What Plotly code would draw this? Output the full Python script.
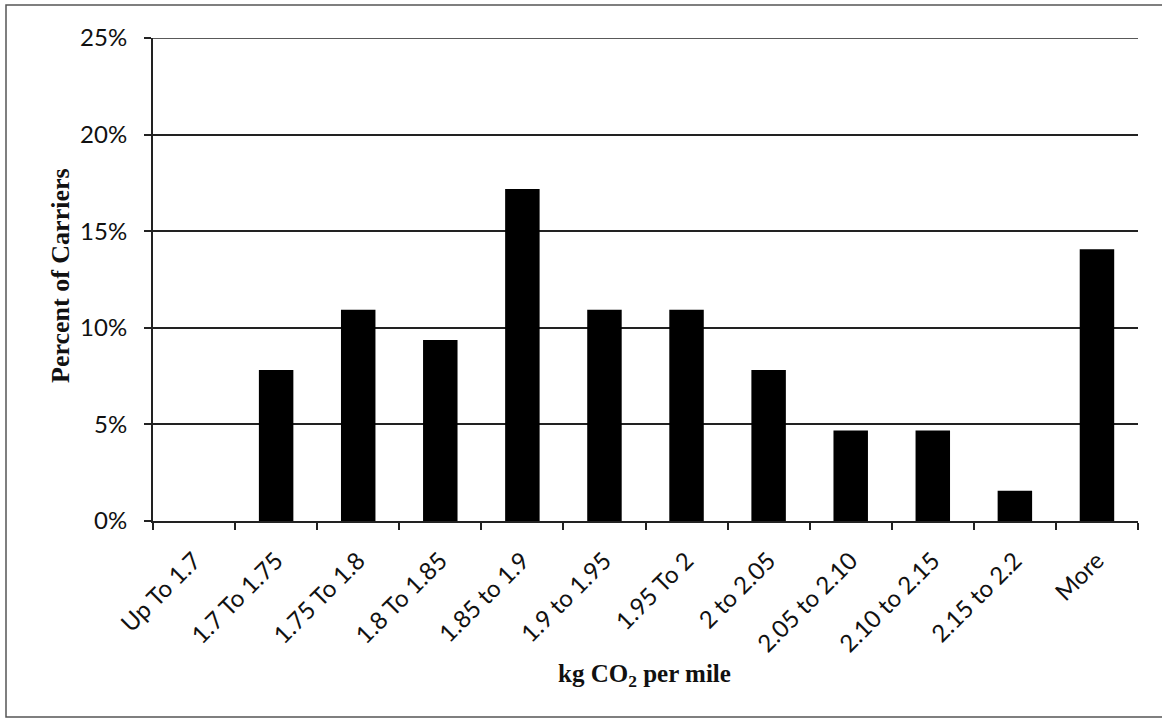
import plotly.graph_objects as go

# Distribution of carriers by emission intensity
categories = [
    "Up To 1.7", "1.7 To 1.75", "1.75 To 1.8", "1.8 To 1.85", "1.85 to 1.9",
    "1.9 to 1.95", "1.95 To 2", "2 to 2.05", "2.05 to 2.10", "2.10 to 2.15",
    "2.15 to 2.2", "More",
]
percent_of_carriers = [
    0.0, 7.8125, 10.9375, 9.375, 17.1875,
    10.9375, 10.9375, 7.8125, 4.6875, 4.6875,
    1.5625, 14.0625,
]
y_ticks = [0, 5, 10, 15, 20, 25]
y_tick_labels = ["0%", "5%", "10%", "15%", "20%", "25%"]
y_max = 25

W, H = 1162, 719
M_L, M_R, M_T, M_B = 153, 24, 38, 198
plot_w = W - M_L - M_R
plot_h = H - M_T - M_B


def px_to_paper_x(px):
    return (px - M_L) / plot_w


def px_to_paper_y(py):
    return (H - M_B - py) / plot_h


tick_font = dict(family="Lato, 'Open Sans', sans-serif", size=24, color="#111")
title_serif = "'Liberation Serif', 'DejaVu Serif', serif"

fig = go.Figure(
    go.Bar(
        x=categories,
        y=percent_of_carriers,
        marker=dict(color="#000000", line=dict(width=0)),
        width=0.42,
    )
)

fig.update_layout(
    width=W,
    height=H,
    margin=dict(l=M_L, r=M_R, t=M_T, b=M_B),
    paper_bgcolor="white",
    plot_bgcolor="white",
    showlegend=False,
    xaxis=dict(
        type="category",
        tickangle=-45,
        tickfont=tick_font,
        ticks="outside",
        tickson="boundaries",
        ticklen=7,
        tickwidth=1.5,
        tickcolor="#222",
        ticklabelstandoff=14,
        showline=True,
        linecolor="#222",
        linewidth=2,
        showgrid=False,
    ),
    yaxis=dict(
        range=[0, y_max],
        tickvals=y_ticks,
        ticktext=y_tick_labels,
        tickfont=tick_font,
        ticks="outside",
        ticklen=7,
        tickwidth=1.5,
        tickcolor="#222",
        ticklabelstandoff=12,
        showline=True,
        linecolor="#222",
        linewidth=2,
        showgrid=True,
        gridcolor="#222",
        gridwidth=1.5,
        zeroline=False,
    ),
    annotations=[
        dict(
            text="<b>Percent of Carriers</b>",
            x=px_to_paper_x(60), y=px_to_paper_y(276),
            xref="paper", yref="paper",
            textangle=-90, showarrow=False,
            xanchor="center", yanchor="middle",
            font=dict(family=title_serif, size=26, color="#111"),
        ),
        dict(
            text="<b>kg CO<sub>2</sub> per mile</b>",
            x=px_to_paper_x(644), y=px_to_paper_y(675),
            xref="paper", yref="paper",
            showarrow=False,
            xanchor="center", yanchor="middle",
            font=dict(family=title_serif, size=25, color="#111"),
        ),
    ],
    shapes=[
        # top gridline at the upper end of the value axis
        dict(
            type="line", xref="paper", yref="y",
            x0=0, x1=1, y0=y_max, y1=y_max,
            line=dict(color="#222", width=1.5),
        ),
        # frame around the whole chart
        dict(
            type="rect", xref="paper", yref="paper",
            x0=px_to_paper_x(6), x1=px_to_paper_x(1175),
            y0=px_to_paper_y(717), y1=px_to_paper_y(5),
            line=dict(color="#555", width=1.5),
            fillcolor="rgba(0,0,0,0)",
            layer="below",
        ),
    ],
)

fig.write_html("out.html")
